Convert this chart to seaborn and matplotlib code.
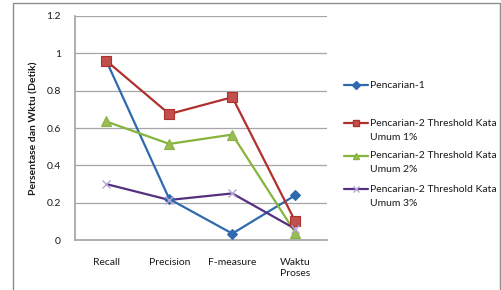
import pandas as pd
import matplotlib.pyplot as plt
import seaborn as sns
from matplotlib.patches import Rectangle
from matplotlib.lines import Line2D

# Data
kategori = ['Recall', 'Precision', 'F-measure', 'Waktu\nProses']
seri = ['Pencarian-1',
        'Pencarian-2 Threshold Kata\nUmum 1%',
        'Pencarian-2 Threshold Kata\nUmum 2%',
        'Pencarian-2 Threshold Kata\nUmum 3%']
pencarian_1 = [0.96, 0.22, 0.035, 0.24]
threshold_1 = [0.96, 0.675, 0.765, 0.10]
threshold_2 = [0.635, 0.515, 0.565, 0.04]
threshold_3 = [0.30, 0.215, 0.25, 0.06]

# Long-form table for seaborn
nilai = [pencarian_1, threshold_1, threshold_2, threshold_3]
rows = []
for s, vals in zip(seri, nilai):
  for k, v in zip(kategori, vals):
    rows.append({'Kategori': k, 'Seri': s, 'Nilai': v})
df = pd.DataFrame(rows)

sns.set_theme(style='white')
plt.rcParams['font.family'] = ['Lato', 'DejaVu Sans']

line_colors = ['#2F69AE', '#B0302C', '#86B43E', '#55307F']
marker_face = ['#2F69AE', '#C0504D', '#9BBB59', '#B9A6D6']
markers = ['D', 's', '^', 'x']

W, H = 502, 290
fig = plt.figure(figsize=(W / 100, H / 100), dpi=100)
ax = fig.add_axes([0.149, 0.172, 0.502, 0.773])

sns.lineplot(data=df, x='Kategori', y='Nilai', hue='Seri', hue_order=seri,
             palette=line_colors, sort=False, ax=ax, legend=False, linewidth=1.6)

# markers drawn per series so the face colours can differ from the lines
for i, s in enumerate(seri):
  sub = df[df['Seri'] == s]
  if markers[i] == 'x':
    ax.plot(sub['Kategori'], sub['Nilai'], linestyle='none', marker='x',
            markersize=6, markeredgewidth=1.0, color=marker_face[i], zorder=4)
  else:
    size = 5 if markers[i] == 'D' else 6.5
    ax.plot(sub['Kategori'], sub['Nilai'], linestyle='none', marker=markers[i],
            markersize=size, markerfacecolor=marker_face[i],
            markeredgecolor=line_colors[i], markeredgewidth=0.8, zorder=4)

ax.set_xlim(-0.5, 3.5)
ax.set_ylim(0, 1.2)
ax.set_yticks([0, 0.2, 0.4, 0.6, 0.8, 1.0, 1.2])
ax.set_yticklabels(['0', '0.2', '0.4', '0.6', '0.8', '1', '1.2'])
ax.yaxis.grid(True, color='#A6A6A6', linewidth=0.9)
ax.set_axisbelow(True)
for side in ['top', 'right']:
  ax.spines[side].set_visible(False)
ax.spines['left'].set_color('#A6A6A6')
ax.spines['bottom'].set_color('#A6A6A6')
ax.tick_params(axis='both', labelsize=7.5, length=0, colors='#1a1a1a')
ax.tick_params(axis='x', pad=13)
ax.tick_params(axis='y', pad=10)
ax.set_xlabel('')
ax.set_ylabel('Persentase dan Wktu (Detik)', fontsize=7.5, fontweight='bold',
              labelpad=6, color='#1a1a1a')

# Legend on the right, Excel style: handle level with the first text line
leg_y = [85, 123, 156, 189]
for i, s in enumerate(seri):
  y = 1 - leg_y[i] / H
  kw = dict(color=line_colors[i], linewidth=1.6, marker=markers[i],
            markevery=[1], transform=fig.transFigure)
  if markers[i] == 'x':
    kw.update(markersize=5, markeredgecolor=marker_face[i])
  else:
    kw.update(markersize=4.5, markerfacecolor=marker_face[i],
              markeredgecolor=line_colors[i])
  fig.add_artist(Line2D([344 / W, 356 / W, 368 / W], [y, y, y], **kw))
  for j, part in enumerate(s.split('\n')):
    fig.text(370 / W, y - j * 14 / H, part, fontsize=7.5, va='center', ha='left',
             color='#1a1a1a')

# Outer chart border
fig.patches.append(Rectangle((13 / W, -0.05), 487 / W, 1.04, transform=fig.transFigure,
                             fill=False, edgecolor='#8C8C8C', linewidth=1.0))

fig.savefig('out.png', dpi=100)
